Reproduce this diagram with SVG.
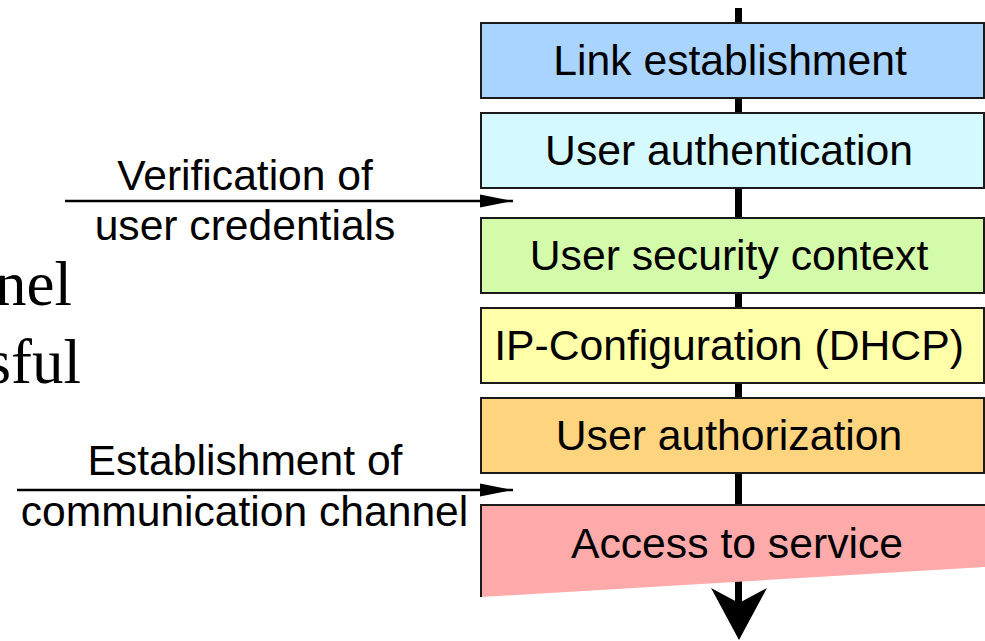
<svg xmlns="http://www.w3.org/2000/svg" width="985" height="641" viewBox="0 0 985 641">
<defs>
<style>
.box{stroke:#1a1a1a;stroke-width:2}
.lbl{font-family:"Liberation Sans",Arial,sans-serif;font-size:42.7px;fill:#000;text-anchor:middle}
.side{font-family:"Liberation Sans",Arial,sans-serif;font-size:42.6px;fill:#000;text-anchor:middle}
.serif{font-family:"Liberation Serif","Times New Roman",serif;font-size:63px;fill:#000;text-anchor:end}
.conn{stroke:#000;stroke-width:2.5;fill:none}
</style>
<marker id="ah" markerWidth="34" markerHeight="14" refX="33" refY="7" orient="auto" markerUnits="userSpaceOnUse">
<path d="M0,0.5 L33,7 L0,13.5 Z" fill="#000"/>
</marker>
</defs>
<rect width="985" height="641" fill="#fff"/>
<text class="serif" x="72" y="305">nel</text>
<text class="serif" x="81" y="383">sful</text>
<g id="connectors">
<line x1="738.5" y1="8" x2="738.5" y2="605" stroke="#000" stroke-width="7"/>
<path d="M739,640 L711,588 L739,603 L767,588 Z" fill="#000"/>
<line class="conn" x1="65" y1="201" x2="513" y2="201" marker-end="url(#ah)"/>
<line class="conn" x1="17" y1="490" x2="513" y2="490" marker-end="url(#ah)"/>
</g>
<g id="link">
<rect class="box" x="481" y="23" width="503" height="75" fill="#a8d4ff"/>
<text class="lbl" x="730" y="75">Link establishment</text>
</g>
<g id="auth">
<rect class="box" x="481" y="113" width="503" height="75" fill="#d4faff"/>
<text class="lbl" x="729" y="165">User authentication</text>
</g>
<g id="secctx">
<rect class="box" x="481" y="218" width="503" height="75" fill="#d4fbaa"/>
<text class="lbl" x="729" y="270">User security context</text>
</g>
<g id="ipconf">
<rect class="box" x="481" y="308" width="503" height="75" fill="#ffffaa"/>
<text class="lbl" x="729" y="360">IP-Configuration (DHCP)</text>
</g>
<g id="authz">
<rect class="box" x="481" y="398" width="503" height="75" fill="#ffd47f"/>
<text class="lbl" x="729" y="450">User authorization</text>
</g>
<g id="access">
<polygon points="481,505 985,505 985,567 481,597" fill="#ffaaaa"/>
<polyline points="481,597 481,505 985,505" fill="none" stroke="#1a1a1a" stroke-width="2"/>
<text class="lbl" x="737" y="558">Access to service</text>
</g>
<g id="arrow-labels">
<text class="side" x="245" y="190">Verification of</text>
<text class="side" x="245" y="240">user credentials</text>
<text class="side" x="245" y="475">Establishment of</text>
<text class="side" x="244.5" y="526">communication channel</text>
</g>
</svg>
